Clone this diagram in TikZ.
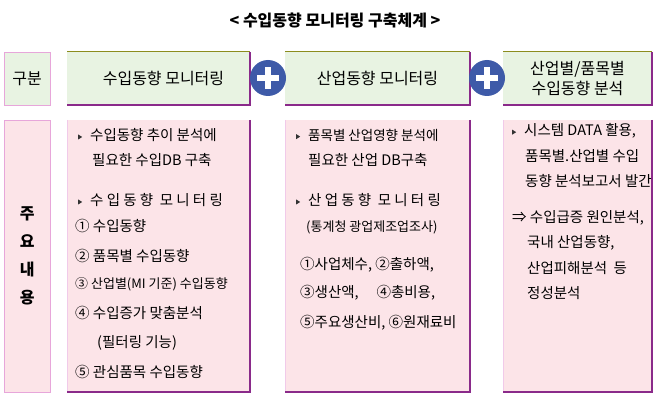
\documentclass[tikz,border=0pt]{standalone}
\usepackage{fontspec}
\setmainfont{Noto Sans CJK KR}
\usetikzlibrary{calc}
\definecolor{hdrfill}{HTML}{E8F3E2}
\definecolor{bodyfill}{HTML}{FCE4E8}
\definecolor{olive}{HTML}{8C8C1E}
\definecolor{purp}{HTML}{8A2A8A}
\definecolor{pinkb}{HTML}{E7A6DA}
\definecolor{plusblue}{HTML}{3E5AA8}
\newcommand\mybul{\tikz[x=1pt,y=1pt,baseline=-1pt]{\fill[black!80] (0,0) -- (0,5) -- (4,2.5) -- cycle;}\hspace{8pt}}
\tikzset{
 txt/.style={anchor=west,inner sep=0pt,font=\fontsize{14.5}{16}\selectfont},
 htxt/.style={inner sep=0pt,font=\fontsize{16}{20}\selectfont,align=center},
 plusc/.style={circle,fill=plusblue,minimum size=36pt,inner sep=0pt}
}
\begin{document}
\begin{tikzpicture}[x=1pt,y=-1pt]
\useasboundingbox (0,0) rectangle (670,401);
\node[htxt,font=\fontsize{16}{20}\selectfont\bfseries] (title) at (335,20) {< 수입동향 모니터링 구축체계 >};
% left column
\node[fill=hdrfill,draw=pinkb,minimum width=46pt,minimum height=53pt,anchor=north west] (gh) at (4,52) {};
\node[htxt] (ght) at (gh.center) {구분};
\node[fill=bodyfill,draw=pinkb,minimum width=46pt,minimum height=272pt,anchor=north west] (gb) at (4,120) {};
\node[htxt,align=center,font=\fontsize{16}{28}\selectfont\bfseries] (gbt) at (gb.center) {주\\요\\내\\용};
% header boxes
\foreach \n/\xa/\xb in {h1/67/250,h2/285/470,h3/503/652}{
 \fill[hdrfill] (\xa,52) rectangle (\xb,105);
 \draw[olive,line width=1pt] (\xa,52) -- (\xb,52);
 \draw[purp,line width=1.2pt] (\xb,52) -- (\xb,105) -- (\xa,105);
 \coordinate (\n) at ({(\xa+\xb)/2},78.5);
 \fill[bodyfill] (\xa,120) rectangle (\xb,392);
 \draw[pinkb!60,line width=0.6pt] (\xa,120) -- (\xa,392);
 \draw[purp,line width=1.2pt] (\xb,120) -- (\xb,392) -- (\xa,392);
}
\node[htxt,xshift=5pt] (h1t) at (h1) {수입동향 모니터링};
\node[htxt] (h2t) at (h2) {산업동향 모니터링};
\node[htxt] (h3t) at (h3) {산업별/품목별\\수입동향 분석};
\foreach \n/\cx in {p1/268,p2/487}{
 \node[plusc] (\n) at (\cx,78) {};
 \fill[white] ($(\n)+(-11,-3)$) rectangle ($(\n)+(11,3)$);
 \fill[white] ($(\n)+(-3,-11)$) rectangle ($(\n)+(3,11)$);
}
% body box1
\node[txt] (a1) at (78,135) {\mybul 수입동향 추이 분석에};
\node[txt] (a2) at (92,160) {필요한 수입DB 구축};
\node[txt] (a3) at (78,200) {\mybul 수 입 동 향\ \ 모 니 터 링};
\node[txt] (a4) at (75,226) {① 수입동향};
\node[txt] (a5) at (75,256) {② 품목별 수입동향};
\node[txt,font=\fontsize{13}{15}\selectfont] (a6) at (75,284) {③ 산업별(MI 기준) 수입동향};
\node[txt] (a7) at (75,313) {④ 수입증가 맞춤분석};
\node[txt] (a8) at (97,343) {(필터링 기능)};
\node[txt] (a9) at (75,372) {⑤ 관심품목 수입동향};
% body box2
\node[txt,font=\fontsize{13.5}{15}\selectfont] (b1) at (296,135) {\mybul 품목별 산업영향 분석에};
\node[txt] (b2) at (308,160) {필요한 산업 DB구축};
\node[txt] (b3) at (296,200) {\mybul 산 업 동 향\ \ 모 니 터 링};
\node[txt,font=\fontsize{13}{15}\selectfont] (b4) at (306,227) {(통계청 광업제조업조사)};
\node[txt] (b5) at (300,265) {①사업체수, ②출하액,};
\node[txt] (b6) at (300,293) {③생산액,\quad\ ④총비용,};
\node[txt] (b7) at (300,323) {⑤주요생산비, ⑥원재료비};
% body box3
\node[txt] (c1) at (512,131) {\mybul 시스템 DATA 활용,};
\node[txt] (c2) at (525,156) {품목별.산업별 수입};
\node[txt] (c3) at (525,181) {동향 분석보고서 발간};
\node[txt] (c4) at (512,218) {⇒ 수입급증 원인분석,};
\node[txt] (c5) at (527,243) {국내 산업동향,};
\node[txt] (c6) at (527,268) {산업피해분석\ \ 등};
\node[txt] (c7) at (527,293) {정성분석};
\end{tikzpicture}
\end{document}
